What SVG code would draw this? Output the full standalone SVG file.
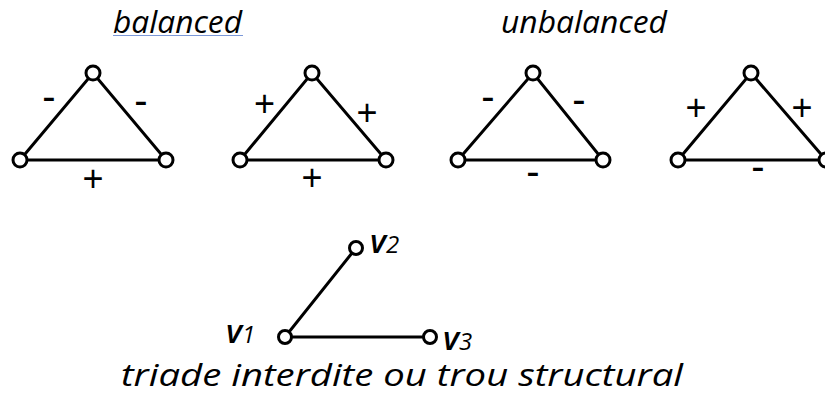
<svg xmlns="http://www.w3.org/2000/svg" width="825" height="396" viewBox="0 0 825 396">
<style>
.e{stroke:#000;stroke-width:3;fill:none}
.n{fill:#fff;stroke:#000;stroke-width:3}
.p{font-family:"Liberation Sans",Arial,sans-serif;font-size:36px;fill:#000;text-anchor:middle}
.m{font-family:"Liberation Sans",Arial,sans-serif;font-size:40px;fill:#000;text-anchor:middle}
.t{font-family:"Open Sans","Liberation Sans",sans-serif;font-style:italic;font-size:31px;fill:#000}
.v{font-family:"Open Sans","Liberation Sans",sans-serif;font-style:italic;fill:#000}
</style>
<rect width="825" height="396" fill="#fff"/>
<text class="t" x="113" y="33" textLength="129" lengthAdjust="spacingAndGlyphs">balanced</text>
<line x1="113" y1="35.5" x2="243" y2="35.5" stroke="#7b98d8" stroke-width="1"/>
<text class="t" x="501" y="33" textLength="166" lengthAdjust="spacingAndGlyphs">unbalanced</text>
<g id="connectors">
<path class="e" d="M20,160 L93,73 L166,160 Z"/>
<path class="e" d="M240,160 L312,73 L386,160 Z"/>
<path class="e" d="M458,160 L533,73 L603,160 Z"/>
<path class="e" d="M678,160 L751,73 L826,160 Z"/>
<path class="e" d="M356,248 L285,337 L430,337"/>
</g>
<g id="t1">
<circle class="n" cx="93" cy="73" r="7"/><circle class="n" cx="20" cy="160" r="7"/><circle class="n" cx="166" cy="160" r="7"/>
<text class="m" x="49" y="110">-</text><text class="m" x="141" y="114">-</text><text class="p" x="93" y="191">+</text>
</g>
<g id="t2">
<circle class="n" cx="312" cy="73" r="7"/><circle class="n" cx="240" cy="160" r="7"/><circle class="n" cx="386" cy="160" r="7"/>
<text class="p" x="264.5" y="115.5">+</text><text class="p" x="367" y="125">+</text><text class="p" x="312" y="190">+</text>
</g>
<g id="t3">
<circle class="n" cx="533" cy="73" r="7"/><circle class="n" cx="458" cy="160" r="7"/><circle class="n" cx="603" cy="160" r="7"/>
<text class="m" x="488" y="110">-</text><text class="m" x="579" y="113">-</text><text class="m" x="533" y="185">-</text>
</g>
<g id="t4">
<circle class="n" cx="751" cy="73" r="7"/><circle class="n" cx="678" cy="160" r="7"/><circle class="n" cx="826" cy="160" r="7"/>
<text class="p" x="696" y="120">+</text><text class="p" x="802" y="120">+</text><text class="m" x="758" y="180">-</text>
</g>
<g id="v2">
<circle class="n" cx="356" cy="248" r="6.5"/>
<text class="v" x="370" y="253"><tspan font-size="33" font-weight="600">v</tspan><tspan font-size="24">2</tspan></text>
</g>
<g id="v1">
<circle class="n" cx="285" cy="337" r="6.5"/>
<text class="v" x="226" y="343"><tspan font-size="33" font-weight="600">v</tspan><tspan font-size="24">1</tspan></text>
</g>
<g id="v3">
<circle class="n" cx="430" cy="337" r="6.5"/>
<text class="v" x="443" y="350"><tspan font-size="33" font-weight="600">v</tspan><tspan font-size="24">3</tspan></text>
</g>
<text class="t" x="121" y="386" font-size="32" textLength="562" lengthAdjust="spacingAndGlyphs">triade interdite ou trou structural</text>
</svg>
